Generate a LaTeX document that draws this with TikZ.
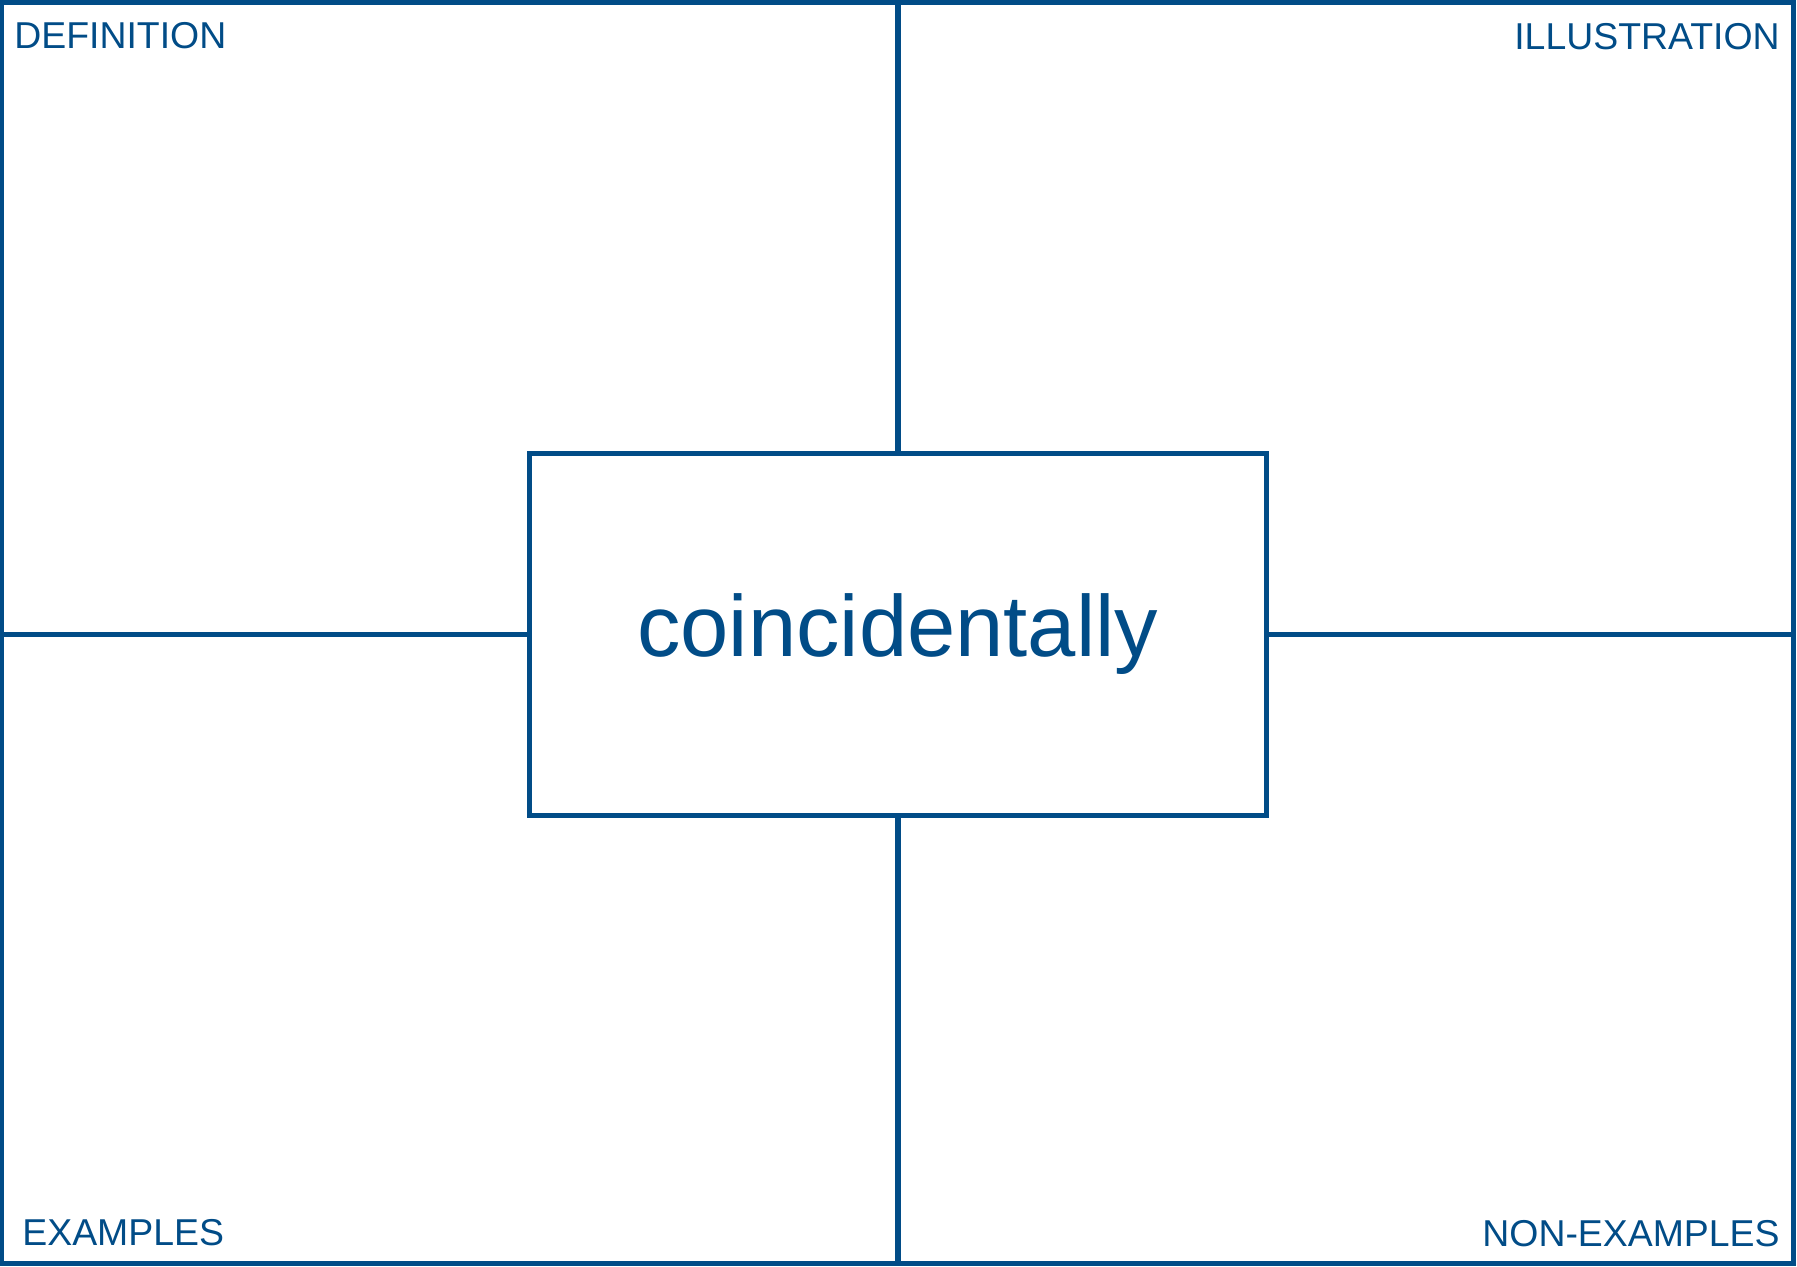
\documentclass[tikz,border=0pt]{standalone}
\usepackage{fontspec}
\setmainfont{Liberation Sans}
\definecolor{frameblue}{RGB}{1,76,135}
\begin{document}
\begin{tikzpicture}[x=0.5pt,y=-0.5pt,
  frame/.style={draw=frameblue,line width=2.5pt},
  corner/.style={inner sep=0pt,text=frameblue,font=\fontsize{18.7pt}{21pt}\selectfont},
  wordbox/.style={draw=frameblue,line width=2.5pt,rectangle,minimum width=368.75pt,minimum height=181.25pt,inner sep=0pt,text=frameblue,font=\fontsize{43.4pt}{48pt}\selectfont}]
\useasboundingbox (0,0) rectangle (1797,1266);
% outer frame
\draw[frame] (1,2.5) rectangle (1793,1263.5);
\coordinate (topmid) at (897.75,2.5);
\coordinate (botmid) at (897.75,1263.5);
% central box
\node[wordbox] (word) at (897.75,634.5) {coincidentally};
\coordinate (leftmid) at (1,634.5);
\coordinate (rightmid) at (1793,634.5);
% dividers
\draw[frame,line width=3pt] (topmid) -- (word.north);
\draw[frame,line width=3pt] (word.south) -- (botmid);
\draw[frame] (leftmid) -- (word.west);
\draw[frame] (word.east) -- (rightmid);
% labels
\node[corner,anchor=base west] (def) at (14,48) {DEFINITION};
\node[corner,anchor=base east] (ill) at (1780,49) {ILLUSTRATION};
\node[corner,anchor=base west] (ex) at (22,1245) {EXAMPLES};
\node[corner,anchor=base east] (nonex) at (1780,1246) {NON-EXAMPLES};
\end{tikzpicture}
\end{document}
